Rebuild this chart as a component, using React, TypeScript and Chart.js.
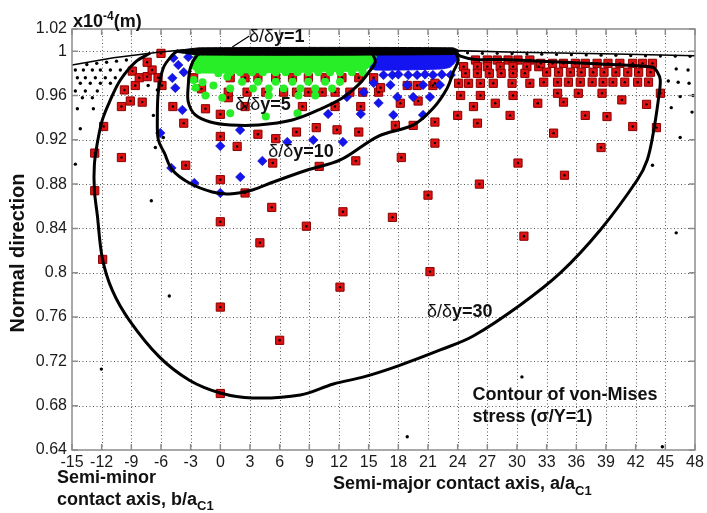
import React, { useEffect, useRef } from "react";
import { Chart, registerables } from "chart.js";

Chart.register(...registerables);

type Pt = [number, number];
const pts = (a: Pt[]) => a.map(([x, y]) => ({ x, y }));

const FONT = "'Liberation Sans', Arial, Helvetica, sans-serif";

// ---- axes ----
const xTickValues = [-15, -12, -9, -6, -3, 0, 3, 6, 9, 12, 15, 18, 21, 24, 27, 30, 33, 36, 39, 42, 45, 48];
const yTickValues = [0.64, 0.68, 0.72, 0.76, 0.8, 0.84, 0.88, 0.92, 0.96, 1.0, 1.02];

// ---- contours (normal direction x10^-4 m vs a/aC1) ----
const surfaceLine: Pt[] = [
  [-15, 0.9875], [-10.8, 0.994], [-6.07, 0.9992], [-4.04, 1.0008], [0, 1.001],
  [23.8, 1.0005], [30, 0.999], [40, 0.9975], [48, 0.9958],
];
const contour30: Pt[] = [
  [-7.08, 0.9983], [-8.59, 0.9902], [-10.11, 0.974], [-11.12, 0.956], [-11.93, 0.938],
  [-12.44, 0.917], [-12.74, 0.897], [-12.74, 0.875], [-12.44, 0.852], [-11.93, 0.813],
  [-10.92, 0.784], [-9.2, 0.757], [-6.17, 0.724], [-3.13, 0.703], [0, 0.6915],
  [3.24, 0.687], [8.09, 0.6897], [11.43, 0.6996], [14.5, 0.706], [18.0, 0.716],
  [22.24, 0.7303], [25.58, 0.7429], [30.33, 0.7709], [34.38, 0.7998], [38.42, 0.8386],
  [42.16, 0.8837], [43.17, 0.9018], [43.78, 0.9261], [44.29, 0.9559], [44.49, 0.974],
  [44.19, 0.9812], [43.68, 0.9857], [38.42, 0.9884], [32.36, 0.991], [28.31, 0.9925],
  [25.8, 0.9925], [24.27, 0.9955], [23.76, 0.9992],
];
const contour10: Pt[] = [
  [23.76, 0.9992], [24.06, 0.992], [23.56, 0.9812], [22.95, 0.9668], [21.54, 0.9487],
  [19.52, 0.9334], [16.0, 0.9234], [12.13, 0.9018], [8.8, 0.8927], [5.36, 0.8819],
  [3.24, 0.8747], [0.91, 0.8711], [-0.81, 0.8729], [-3.13, 0.881], [-4.85, 0.8927],
  [-5.66, 0.9081], [-6.27, 0.92], [-6.37, 0.9397], [-6.27, 0.963], [-5.76, 0.985],
  [-4.85, 0.9965], [-4.25, 1.001],
];
const contour5: Pt[] = [
  [15.37, 0.9983], [15.67, 0.9902], [14.96, 0.9803], [13.95, 0.9695], [12.34, 0.9577],
  [9.91, 0.9469], [7.28, 0.9379], [3.84, 0.9334], [1.01, 0.9334], [-1.01, 0.9361],
  [-2.53, 0.9424], [-3.24, 0.9541], [-3.24, 0.9695], [-3.03, 0.9848], [-2.33, 0.9965],
  [-1.52, 1.0],
];
const contour1Band: Pt[] = [
  [-4.5, 1.0005], [-2, 1.003], [23.5, 1.003], [24.2, 1.0], [23.5, 0.997], [-2, 0.9965], [-4.5, 0.999],
];
const pointer1: Pt[] = [[1.21, 1.0038], [2.93, 1.0137]];
const greenBand: Pt[] = [
  [-2.73, 0.9956], [-2.02, 0.9992], [15.37, 0.9992], [15.77, 0.9947], [14.96, 0.9848],
  [14.16, 0.9821], [-2.02, 0.9803], [-2.93, 0.9848],
];
const blueBand: Pt[] = [
  [15.17, 0.9992], [23.86, 0.9992], [24.06, 0.9938], [23.26, 0.9857], [22.24, 0.9839],
  [15.67, 0.983], [14.96, 0.9866],
];

// ---- point clouds ----
const redSquares: Pt[] = [
  [-12.7, 0.908], [-12.7, 0.874], [-11.9, 0.812], [-10.0, 0.904], [-11.8, 0.932], [-10.0, 0.95],
  [-9.1, 0.955], [-7.9, 0.954], [-9.7, 0.965], [-8.6, 0.969], [-8.9, 0.982], [-8.2, 0.976],
  [-7.4, 0.977], [-6.9, 0.983], [-6.3, 0.976], [-7.4, 0.99], [-6.0, 0.998], [-5.9, 0.969],
  [-4.8, 0.95], [-3.7, 0.935], [-3.5, 0.897], [-2.7, 0.976], [-1.9, 0.966], [-1.5, 0.948],
  [0, 0.943], [0, 0.923], [0.8, 0.958], [1.7, 0.914], [0, 0.884], [0, 0.846], [0, 0.769],
  [0, 0.691], [2.5, 0.872],
  [5.3, 0.899], [10.0, 0.896], [13.7, 0.901], [18.3, 0.904], [30.1, 0.899], [5.2, 0.859],
  [26.2, 0.88], [21.0, 0.87], [12.4, 0.855], [17.4, 0.85], [8.7, 0.842], [30.7, 0.833],
  [4.0, 0.827], [21.2, 0.801], [12.1, 0.787], [6.0, 0.739],
  [1.0, 0.976], [2.5, 0.976], [3.8, 0.976], [5.6, 0.976], [7.3, 0.976], [8.9, 0.976],
  [10.6, 0.976], [12.3, 0.976], [14.0, 0.976], [15.5, 0.976],
  [0.8, 0.963], [2.7, 0.963], [4.6, 0.963], [6.4, 0.963], [7.7, 0.963], [8.9, 0.963],
  [10.3, 0.963], [11.6, 0.963], [13.1, 0.963], [14.4, 0.963], [16.0, 0.963],
  [2.5, 0.95], [8.3, 0.95], [11.6, 0.95], [14.2, 0.95],
  [3.8, 0.925], [5.6, 0.921], [7.7, 0.927], [9.7, 0.931], [11.8, 0.929], [14.0, 0.927],
  [16.2, 0.967], [18.2, 0.953], [18.9, 0.969], [19.9, 0.969], [21.5, 0.969], [20.0, 0.955],
  [17.7, 0.933], [19.5, 0.933], [21.7, 0.936], [21.7, 0.917], [24.0, 0.942], [24.3, 0.96],
  [25.8, 0.992], [27.0, 0.992], [28.0, 0.992], [29.1, 0.992], [30.1, 0.992], [31.3, 0.992],
  [24.6, 0.986], [26.0, 0.986], [27.0, 0.986], [28.3, 0.986], [29.6, 0.986], [31.0, 0.986], [32.2, 0.986],
  [24.8, 0.98], [26.0, 0.98], [27.2, 0.98], [28.4, 0.98], [29.6, 0.98], [30.8, 0.98],
  [21.7, 0.971], [24.1, 0.971], [25.1, 0.971], [26.3, 0.971], [27.6, 0.971], [29.5, 0.971], [31.3, 0.971],
  [26.3, 0.96], [29.6, 0.96], [27.8, 0.953], [32.1, 0.953], [25.6, 0.95], [29.3, 0.942], [26.0, 0.935],
  [34.7, 0.954], [33.7, 0.926], [36.9, 0.942], [39.1, 0.941], [40.6, 0.956], [43.1, 0.952],
  [41.7, 0.932], [44.1, 0.931], [38.5, 0.913], [34.8, 0.888],
  [32.4, 0.989], [33.6, 0.989], [34.7, 0.989], [35.9, 0.989], [36.9, 0.989], [38.1, 0.989],
  [39.2, 0.989], [40.4, 0.989], [41.7, 0.989], [42.7, 0.989], [43.7, 0.989],
  [33.0, 0.981], [34.2, 0.981], [35.4, 0.981], [36.5, 0.981], [37.7, 0.981], [38.8, 0.981],
  [40.0, 0.981], [41.2, 0.981], [42.3, 0.981], [43.5, 0.981],
  [32.7, 0.972], [34.1, 0.972], [35.2, 0.972], [36.4, 0.972], [37.6, 0.972], [38.7, 0.972],
  [39.7, 0.972], [40.9, 0.972], [42.2, 0.972], [43.3, 0.972],
  [34.1, 0.962], [36.2, 0.962], [38.6, 0.962], [44.5, 0.962],
];
const blueDiamonds: Pt[] = [
  [16.5, 0.9785], [17.4, 0.9785], [18.0, 0.979], [19.0, 0.9785], [19.9, 0.9785], [20.7, 0.979],
  [21.5, 0.9785], [22.4, 0.979], [23.3, 0.9785],
  [17.2, 0.9695], [18.9, 0.9695], [20.5, 0.9695], [22.2, 0.9695],
  [17.9, 0.9586], [19.5, 0.9586], [21.2, 0.9586], [17.5, 0.9424], [20.5, 0.9424],
  [15.5, 0.9713], [12.8, 0.9586], [16.0, 0.9532], [10.9, 0.9433], [14.2, 0.9433], [2.0, 0.9288],
  [9.4, 0.9198], [12.4, 0.918],
  [-4.75, 0.9938], [-4.25, 0.9875], [-4.85, 0.9758], [-3.7, 0.981], [-4.55, 0.9668],
  [-3.84, 0.9469], [-6.07, 0.9261], [-3.24, 0.9947],
  [0, 0.9144], [-4.95, 0.8946], [-2.63, 0.881], [0, 0.872], [2.02, 0.8864], [4.25, 0.9009],
  [6.77, 0.918], [14.5, 0.963],
];
const greenDots: Pt[] = [
  [1.0, 0.981], [2.0, 0.981], [3.2, 0.981], [4.3, 0.981], [5.6, 0.981], [6.6, 0.981], [7.8, 0.981],
  [8.9, 0.981], [9.9, 0.981], [11.1, 0.981], [12.1, 0.981], [13.3, 0.981], [14.4, 0.981],
  [2.2, 0.9724], [3.8, 0.9724], [5.6, 0.9724], [7.3, 0.9724], [8.9, 0.9724], [10.6, 0.9724], [12.1, 0.9724],
  [1.0, 0.9664], [3.3, 0.9664], [4.9, 0.9664], [6.4, 0.9664], [8.1, 0.9664], [9.6, 0.9664], [11.3, 0.9664],
  [4.9, 0.96], [7.9, 0.96], [9.6, 0.96], [1.0, 0.944], [7.8, 0.944], [4.6, 0.941],
  [-2.2, 0.983], [-1.8, 0.972], [-1.5, 0.96], [-0.7, 0.969], [0.2, 0.958], [0.7, 0.977],
  [-0.2, 0.98], [-2.5, 0.967], [-1.0, 0.985], [-2.7, 0.974],
];
const blackDots: Pt[] = [
  [-14.66, 0.983], [-13.85, 0.983], [-12.94, 0.983], [-12.13, 0.983], [-11.12, 0.983], [-10.11, 0.983],
  [-14.46, 0.976], [-13.65, 0.976], [-12.64, 0.976], [-11.63, 0.976], [-10.62, 0.976],
  [-14.16, 0.971], [-13.15, 0.971], [-12.13, 0.971], [-11.12, 0.971],
  [-14.66, 0.964], [-13.65, 0.964], [-12.44, 0.964], [-13.95, 0.958], [-12.94, 0.958],
  [-14.46, 0.948], [-12.84, 0.948], [-14.16, 0.93], [-14.66, 0.898],
  [-13.5, 0.988], [-12.5, 0.989], [-11.5, 0.99], [-10.5, 0.991], [-9.5, 0.992],
  [-7.3, 0.969], [-6.77, 0.942], [-6.37, 0.965], [-5.76, 0.922], [-6.57, 0.913], [-6.98, 0.865],
  [-5.16, 0.779], [-12.03, 0.713], [30.5, 0.706], [18.9, 0.652], [44.7, 0.643],
  [46.1, 0.984], [47.3, 0.983], [45.3, 0.973], [46.3, 0.972], [47.4, 0.971], [46.5, 0.959],
  [47.8, 0.96], [45.6, 0.949], [47.7, 0.945], [46.5, 0.922], [43.7, 0.897], [46.1, 0.836],
];
const surfaceDots: Pt[] = [
  [25.0, 0.9985], [26.5, 0.998], [28.0, 0.998], [29.5, 0.9978], [31.0, 0.9975], [32.5, 0.9972],
  [34.0, 0.997], [35.5, 0.9968], [37.0, 0.9966], [38.5, 0.9964], [40.0, 0.9962], [41.5, 0.996],
  [43.0, 0.9958], [44.5, 0.9956], [46.0, 0.9955], [47.5, 0.9953],
];

// ---- annotations ----
const deltaLabelX = [2.9, 1.5, 4.85, 20.9];
const deltaLabelY = [1.0083, 0.947, 0.9045, 0.76];
const deltaLabelValue = ["1", "5", "10", "30"];
const noteLines = ["Contour of von-Mises", "stress (\u03c3/Y=1)"];
const noteX = 25.5;
const noteY = [0.685, 0.665];

type Part = [string, string, number];
function drawParts(ctx: CanvasRenderingContext2D, x: number, y: number, parts: Part[]) {
  let cx = x;
  for (const [t, font, dy] of parts) {
    ctx.font = font;
    ctx.fillText(t, cx, y + dy);
    cx += ctx.measureText(t).width;
  }
}

const gridPlugin = {
  id: "dottedGrid",
  beforeDatasetsDraw(chart: any) {
    const { ctx, chartArea: a, scales } = chart;
    ctx.save();
    ctx.strokeStyle = "rgba(60,60,60,0.85)";
    ctx.lineWidth = 1;
    ctx.setLineDash([1, 2.5]);
    ctx.beginPath();
    for (const v of xTickValues) {
      const px = Math.round(scales.x.getPixelForValue(v)) + 0.5;
      if (px <= a.left + 1 || px >= a.right - 1) continue;
      ctx.moveTo(px, a.top);
      ctx.lineTo(px, a.bottom);
    }
    for (const v of yTickValues) {
      const py = Math.round(scales.y.getPixelForValue(v)) + 0.5;
      if (py <= a.top + 1 || py >= a.bottom - 1) continue;
      ctx.moveTo(a.left, py);
      ctx.lineTo(a.right, py);
    }
    ctx.stroke();
    ctx.restore();
  },
};

const decorPlugin = {
  id: "decor",
  afterDraw(chart: any) {
    const { ctx, chartArea: a, scales } = chart;
    const xs = scales.x;
    const ys = scales.y;
    ctx.save();
    // box
    ctx.strokeStyle = "#8c8c8c";
    ctx.lineWidth = 1.5;
    ctx.strokeRect(a.left, a.top, a.right - a.left, a.bottom - a.top);
    // inward ticks
    ctx.beginPath();
    for (const v of xTickValues) {
      const px = xs.getPixelForValue(v);
      ctx.moveTo(px, a.bottom);
      ctx.lineTo(px, a.bottom - 6);
      ctx.moveTo(px, a.top);
      ctx.lineTo(px, a.top + 6);
    }
    for (const v of yTickValues) {
      const py = ys.getPixelForValue(v);
      ctx.moveTo(a.left, py);
      ctx.lineTo(a.left + 6, py);
      ctx.moveTo(a.right, py);
      ctx.lineTo(a.right - 6, py);
    }
    ctx.stroke();

    ctx.fillStyle = "#111";
    ctx.textAlign = "left";
    ctx.textBaseline = "alphabetic";
    // delta labels
    for (let i = 0; i < deltaLabelValue.length; i++) {
      drawParts(ctx, xs.getPixelForValue(deltaLabelX[i]), ys.getPixelForValue(deltaLabelY[i]), [
        ["\u03b4/\u03b4", `18px ${FONT}`, 0],
        [`y=${deltaLabelValue[i]}`, `bold 18px ${FONT}`, 0],
      ]);
    }
    // note
    ctx.font = `bold 18px ${FONT}`;
    for (let i = 0; i < noteLines.length; i++) {
      ctx.fillText(noteLines[i], xs.getPixelForValue(noteX), ys.getPixelForValue(noteY[i]));
    }
    // unit label
    drawParts(ctx, a.left + 1, a.top - 2, [
      ["x10", `bold 18px ${FONT}`, 0],
      ["-4", `bold 12px ${FONT}`, -7],
      ["(m)", `bold 18px ${FONT}`, 0],
    ]);
    // x title
    drawParts(ctx, a.left + 261, a.bottom + 39, [
      ["Semi-major contact axis, a/a", `bold 18px ${FONT}`, 0],
      ["C1", `bold 13px ${FONT}`, 6],
    ]);
    // semi-minor note
    ctx.font = `bold 18px ${FONT}`;
    ctx.fillText("Semi-minor", a.left - 15, a.bottom + 33);
    drawParts(ctx, a.left - 15, a.bottom + 55, [
      ["contact axis, b/a", `bold 18px ${FONT}`, 0],
      ["C1", `bold 13px ${FONT}`, 5],
    ]);
    // y title
    ctx.translate(a.left - 54, 253);
    ctx.rotate(-Math.PI / 2);
    ctx.textAlign = "center";
    ctx.textBaseline = "middle";
    ctx.font = `bold 20px ${FONT}`;
    ctx.fillText("Normal direction", 0, 0);
    ctx.restore();
  },
};

const lineDs = (data: Pt[], width: number, order: number, tension = 0.35) => ({
  data: pts(data),
  showLine: true,
  borderColor: "#000",
  borderWidth: width,
  pointRadius: 0,
  pointHoverRadius: 0,
  fill: false,
  tension,
  order,
});

const shapeDs = (data: Pt[], color: string, order: number) => ({
  data: pts(data),
  showLine: true,
  borderColor: color,
  backgroundColor: color,
  borderWidth: 1,
  pointRadius: 0,
  pointHoverRadius: 0,
  fill: "shape",
  tension: 0.2,
  order,
});

const pointDs = (data: Pt[], style: string, r: number, bg: string, border: string, bw: number, order: number) => ({
  data: pts(data),
  showLine: false,
  pointStyle: style,
  pointRadius: r,
  pointHoverRadius: r,
  backgroundColor: bg,
  borderColor: border,
  pointBackgroundColor: bg,
  pointBorderColor: border,
  pointBorderWidth: bw,
  borderWidth: bw,
  fill: false,
  order,
});

export default function App() {
  const ref = useRef<HTMLCanvasElement | null>(null);
  useEffect(() => {
    if (!ref.current) return;
    const chart = new Chart(ref.current, {
      type: "line",
      data: {
        datasets: [
          lineDs(surfaceLine, 1.6, 1, 0),
          lineDs(contour30, 3, 1),
          lineDs(contour10, 3, 1),
          lineDs(contour5, 3, 1),
          lineDs(pointer1, 1.2, 1, 0),
          shapeDs(contour1Band, "#000000", 2),
          pointDs(blackDots, "circle", 1.7, "#000", "#000", 0, 3),
          pointDs(surfaceDots, "circle", 1.6, "#000", "#000", 0, 3),
          shapeDs(greenBand, "#27ee27", 4),
          shapeDs(blueBand, "#1414f0", 5),
          pointDs(greenDots, "circle", 4, "#27ee27", "#27ee27", 0, 6),
          pointDs(blueDiamonds, "rectRot", 4.8, "#1414f0", "#0a0aa0", 0.5, 7),
          pointDs(redSquares, "circle", 1.2, "#000", "#000", 0, 8),
          pointDs(redSquares, "rect", 5.8, "#de1212", "#8a0000", 1, 9),
        ] as any,
      },
      options: {
        responsive: false,
        animation: false,
        events: [],
        layout: { padding: { top: 29, right: 12, left: 0, bottom: 0 } },
        plugins: { legend: { display: false }, tooltip: { enabled: false } },
        scales: {
          x: {
            type: "linear",
            min: -15,
            max: 48,
            afterBuildTicks: (s: any) => {
              s.ticks = xTickValues.map((v) => ({ value: v }));
            },
            afterFit: (s: any) => {
              s.height = 63;
            },
            ticks: {
              autoSkip: false,
              maxRotation: 0,
              padding: 3,
              color: "#1a1a1a",
              font: { family: FONT, size: 16 },
              callback: (v: any) => String(v),
            },
            grid: { display: false, drawTicks: false },
            border: { display: false },
          },
          y: {
            type: "linear",
            min: 0.64,
            max: 1.02,
            afterBuildTicks: (s: any) => {
              s.ticks = yTickValues.map((v) => ({ value: v }));
            },
            afterFit: (s: any) => {
              s.width = 72;
            },
            ticks: {
              autoSkip: false,
              padding: 5,
              color: "#1a1a1a",
              font: { family: FONT, size: 16 },
              callback: (v: any) => String(Number(Number(v).toFixed(2))),
            },
            grid: { display: false, drawTicks: false },
            border: { display: false },
          },
        },
      } as any,
      plugins: [gridPlugin, decorPlugin],
    });
    return () => chart.destroy();
  }, []);
  return (
    <div style={{ position: "fixed", left: 0, top: 0, width: 707, height: 513, background: "#fff" }}>
      <canvas ref={ref} width={707} height={513} style={{ display: "block" }} />
    </div>
  );
}
